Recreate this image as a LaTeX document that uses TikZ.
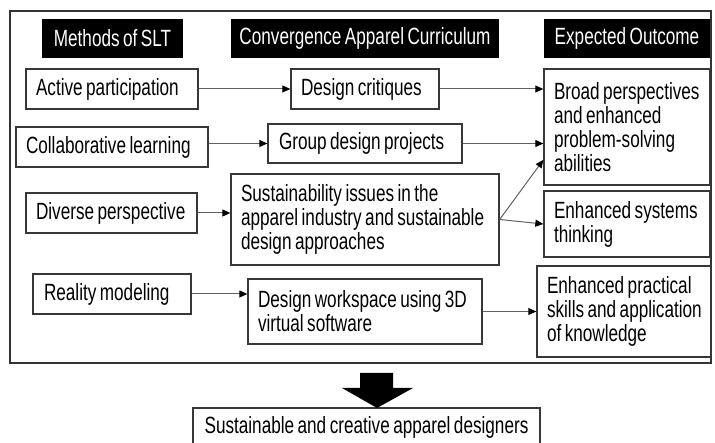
\documentclass[tikz,border=0pt]{standalone}
\usepackage{fontspec}
\setmainfont{Liberation Sans}[FakeStretch=0.73,WordSpace=0.73]
\usetikzlibrary{arrows.meta,calc}
\newcommand\myfnt{\fontsize{23.5}{24}\selectfont\hyphenpenalty=10000\exhyphenpenalty=10000}
\newcommand\myline[1]{\mbox{\spaceskip=0pt\xspaceskip=0pt #1}}
\begin{document}
\begin{tikzpicture}[x=1pt,y=-1pt,
  bx/.style={draw=black!78, line width=1.3pt, inner xsep=10pt, inner ysep=0pt, align=left, font=\myfnt},
  hd/.style={fill=black, text=white, inner sep=0pt, align=center, font=\myfnt},
  ar/.style={draw=black!62, line width=1pt, -{Triangle[length=8pt,width=7pt,color=black]}},
  frame/.style={draw=black!80, line width=2pt}
]
\useasboundingbox (0,0) rectangle (715,443);
\draw[frame] (10,11) rectangle (711,363);
% headers
\node[hd, minimum width=141pt, minimum height=39pt] (h1) at (112.5,38.5) {Methods of SLT};
\node[hd, minimum width=268pt, minimum height=39pt] (h2) at (365,38.5) {Convergence Apparel Curriculum};
\node[hd, minimum width=166pt, minimum height=39pt] (h3) at (627,38.5) {Expected Outcome};
% methods
\node[bx, text width=152pt, minimum height=40pt] (ap) at (112,89) {\myline{Active participation}};
\node[bx, text width=172pt, minimum height=40pt] (cl) at (112,147) {\myline{Collaborative learning}};
\node[bx, text width=151pt, minimum height=40pt] (dp) at (111.5,213) {\myline{Diverse perspective}};
\node[bx, text width=136pt, minimum height=40pt, inner xsep=11pt] (rm) at (112,294) {\myline{Reality modeling}};
% curriculum
\node[bx, text width=128pt, minimum height=40pt] (dc) at (365,89) {\myline{Design critiques}};
\node[bx, text width=172pt, minimum height=39pt, inner xsep=11pt] (gdp) at (365,143.5) {\myline{Group design projects}};
\node[bx, text width=248pt, minimum height=91pt] (sus) at (365,219.5) {\myline{Sustainability issues in the}\\\myline{apparel industry and sustainable}\\\myline{design approaches}};
\node[bx, text width=214pt, minimum height=65pt] (dw) at (365,311.5) {\myline{Design workspace using 3D}\\\myline{virtual software}};
% outcomes
\node[bx, text width=146pt, minimum height=116pt] (broad) at (627,127) {\myline{Broad perspectives}\\\myline{and enhanced}\\\myline{problem-solving}\\\myline{abilities}};
\node[bx, text width=146pt, minimum height=66pt] (sys) at (627,224) {\myline{Enhanced systems}\\\myline{thinking}};
\node[bx, text width=154pt, minimum height=91pt] (prac) at (624,311.5) {\myline{Enhanced practical}\\\myline{skills and application}\\\myline{of knowledge}};
% final
\node[bx, align=center, text width=327pt, minimum height=38pt] (fin) at (366.5,427) {\myline{Sustainable and creative apparel designers}};
% connectors
\draw[ar] (ap) -- (dc);
\draw[ar] (dc.east) -- (dc.east -| broad.west);
\draw[ar] (cl.east |- gdp.west) -- (gdp.west);
\draw[ar] (gdp.east) -- (gdp.east -| broad.west);
\draw[ar] (dp.east) -- (dp.east -| sus.west);
\draw[ar] (sus.east) -- ($(broad.south west)!0.22!(broad.north west)$);
\draw[ar] (sus.east) -- (sys.west);
\draw[ar] (rm.east) -- (rm.east -| dw.west);
\draw[ar] (dw) -- (prac);
% big arrow
\fill[black] (360,373) -- (393,373) -- (393,388) -- (413,388) -- (377,408) -- (342,388) -- (360,388) -- cycle;
\end{tikzpicture}
\end{document}
